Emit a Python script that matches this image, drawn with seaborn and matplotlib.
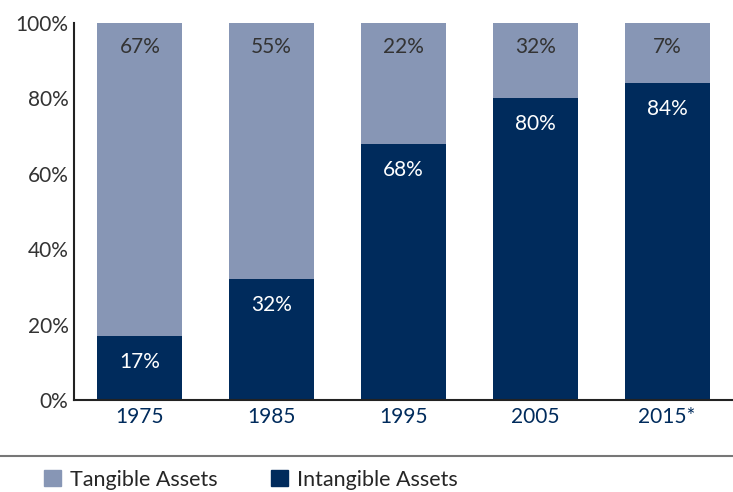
import numpy as np
import pandas as pd
import matplotlib.pyplot as plt
import matplotlib.patches as mpatches
import seaborn as sns

sns.set_style('white')
plt.rcParams['font.family'] = ['Lato', 'DejaVu Sans']

# data
years = ['1975', '1985', '1995', '2005', '2015*']
intangible = [17, 32, 68, 80, 84]
tangible_labels = [67, 55, 22, 32, 7]

dark = '#002b5c'
light = '#8796b5'
fs = 15

df = pd.DataFrame({'year': years, 'intangible': intangible})
df['total'] = 100

fig = plt.figure(figsize=(7.33, 4.92), dpi=100)
ax = fig.add_axes([0.101, 0.187, 0.899, 0.766])

sns.barplot(data=df, x='year', y='total', color=light, width=0.645,
            saturation=1, linewidth=0, ax=ax)
sns.barplot(data=df, x='year', y='intangible', color=dark, width=0.645,
            saturation=1, linewidth=0, ax=ax)

# value labels just under the top of each segment
for i, (v, t) in enumerate(zip(intangible, tangible_labels)):
    ax.annotate(f'{t}%', (i, 100), xytext=(0, -24), textcoords='offset pixels',
                ha='center', va='center', fontsize=fs, color='#333333')
    ax.annotate(f'{v}%', (i, v), xytext=(0, -26), textcoords='offset pixels',
                ha='center', va='center', fontsize=fs, color='white')

ax.set_ylim(0, 100)
ax.set_xlim(-0.5, 4.43)
ax.set_yticks(range(0, 101, 20))
ax.set_yticklabels([f'{v}%' for v in range(0, 101, 20)], fontsize=fs,
                   color='#333333')
ax.set_xlabel('')
ax.set_ylabel('')

# year labels without marks, small marks between the bars
ax.tick_params(axis='x', which='major', length=0, labelsize=fs,
               labelcolor=dark, pad=5)
ax.set_xticks(np.arange(len(years)) + 0.5, minor=True)
ax.tick_params(axis='x', which='minor', direction='in', length=6,
               width=1.2, color='#222222')
ax.tick_params(axis='y', direction='in', length=6, width=1.5,
               color='#222222', pad=4)

for s in ['top', 'right']:
    ax.spines[s].set_visible(False)
for s in ['left', 'bottom']:
    ax.spines[s].set_color('#222222')
    ax.spines[s].set_linewidth(1.5)

# separator line and legend
fig.add_artist(plt.Line2D([0, 1], [0.073, 0.073], color='#777777', lw=1.5))
handles = [mpatches.Patch(color=light, label='Tangible Assets'),
           mpatches.Patch(color=dark, label='Intangible Assets')]
fig.legend(handles=handles, loc='center left', bbox_to_anchor=(0.06, 0.025),
           ncol=2, frameon=False, fontsize=15.5, handlelength=0.8,
           handleheight=0.8, handletextpad=0.4, columnspacing=2.5,
           borderaxespad=0, borderpad=0)

fig.savefig('out.png', dpi=100)
